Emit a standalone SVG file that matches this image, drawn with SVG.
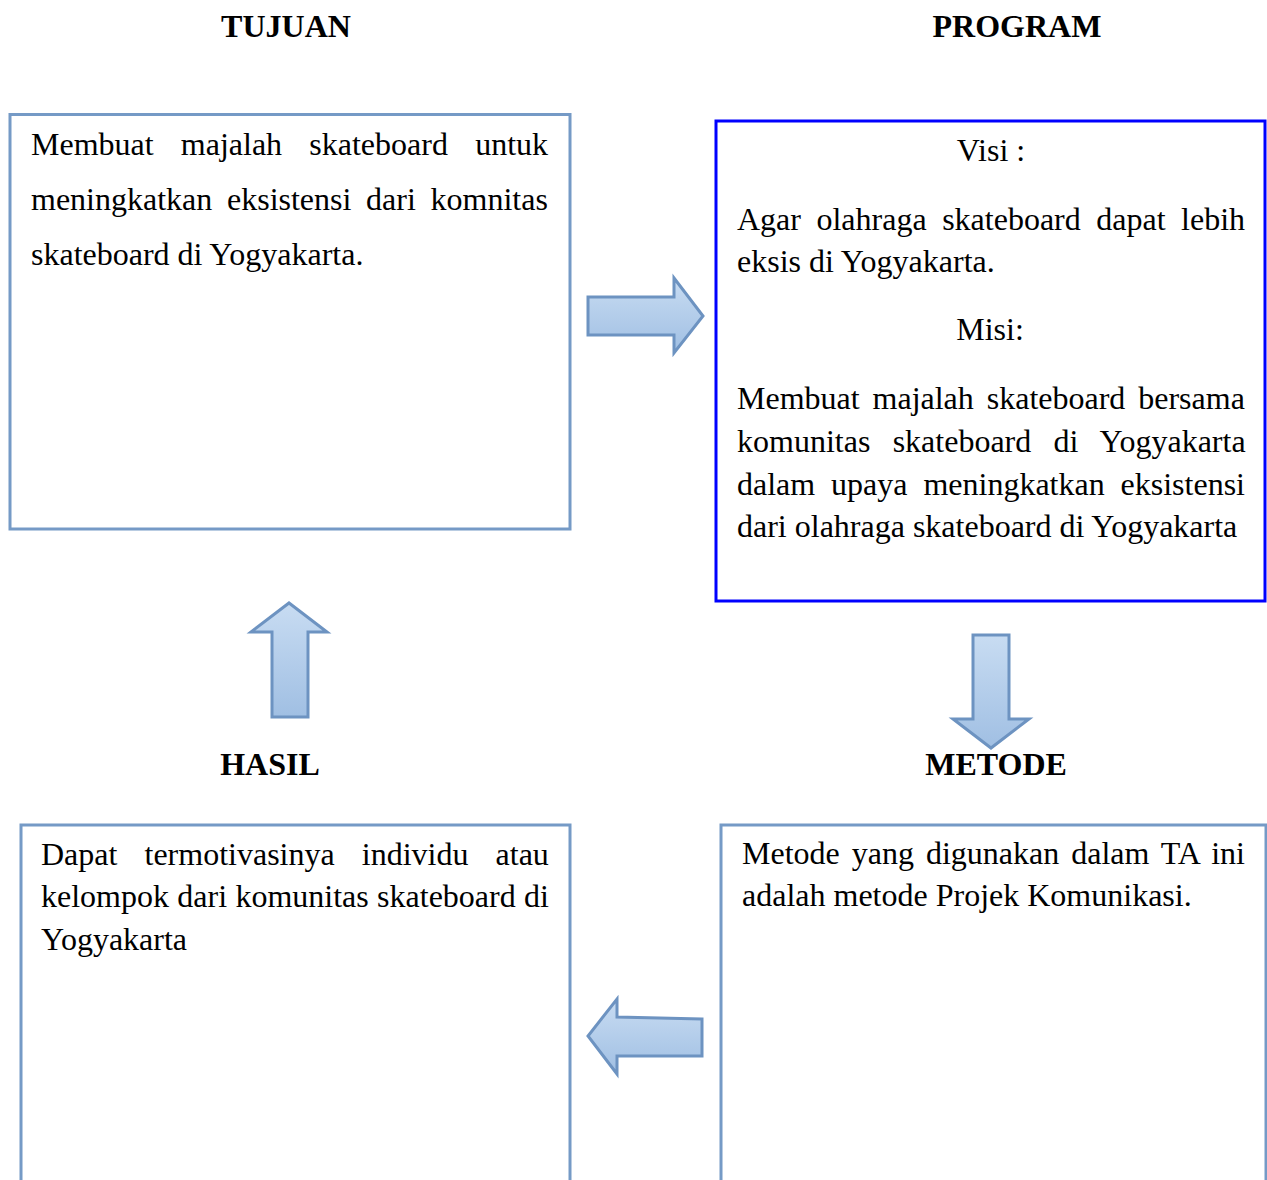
<svg xmlns="http://www.w3.org/2000/svg" width="1267" height="1180" viewBox="0 0 1267 1180">
<style>
text{font-family:"Liberation Serif","Times New Roman",serif;font-size:32px;fill:#000}
.t{font-weight:bold}
.box{fill:#fff;stroke:#759ac6;stroke-width:3}
.blue{fill:#fff;stroke:#0000ff;stroke-width:3}
.arr{fill:url(#g);stroke:#6d93c1;stroke-width:3;stroke-linejoin:miter}
</style>
<defs>
<linearGradient id="g" x1="0" y1="0" x2="0" y2="1">
<stop offset="0" stop-color="#c8dcf2"/>
<stop offset="1" stop-color="#a0bfe3"/>
</linearGradient>
</defs>
<rect width="1267" height="1180" fill="#fff"/>
<g id="titles">
<text class="t" x="286" y="37" text-anchor="middle">TUJUAN</text>
<text class="t" x="1017" y="37" text-anchor="middle">PROGRAM</text>
<text class="t" x="270" y="775" text-anchor="middle">HASIL</text>
<text class="t" x="996" y="775" text-anchor="middle">METODE</text>
</g>
<g id="tujuan">
<rect class="box" x="10" y="114.5" width="560" height="414.5"/>
<text x="31" y="155" style="word-spacing:19.2px">Membuat majalah skateboard untuk</text>
<text x="31" y="210" style="word-spacing:6.7px">meningkatkan eksistensi dari komnitas</text>
<text x="31" y="265">skateboard di Yogyakarta.</text>
</g>
<g id="program">
<rect class="blue" x="716" y="121" width="549" height="480"/>
<text x="991" y="161" text-anchor="middle">Visi :</text>
<text x="737" y="230" style="word-spacing:7.5px">Agar olahraga skateboard dapat lebih</text>
<text x="737" y="272">eksis di Yogyakarta.</text>
<text x="990" y="340" text-anchor="middle">Misi:</text>
<text x="737" y="409" style="word-spacing:4.9px">Membuat majalah skateboard bersama</text>
<text x="737" y="452" style="word-spacing:14.3px">komunitas skateboard di Yogyakarta</text>
<text x="737" y="495" style="word-spacing:7.9px">dalam upaya meningkatkan eksistensi</text>
<text x="737" y="537">dari olahraga skateboard di Yogyakarta</text>
</g>
<g id="hasil">
<rect class="box" x="21" y="825" width="549" height="400"/>
<text x="41" y="865" style="word-spacing:19.1px">Dapat termotivasinya individu atau</text>
<text x="41" y="907" style="word-spacing:0.35px">kelompok dari komunitas skateboard di</text>
<text x="41" y="950">Yogyakarta</text>
</g>
<g id="metode">
<rect class="box" x="721" y="825" width="545" height="400"/>
<text x="742" y="864" style="word-spacing:4px">Metode yang digunakan dalam TA ini</text>
<text x="742" y="906">adalah metode Projek Komunikasi.</text>
</g>
<g id="connectors">
<path class="arr" d="M588,297 L674,297 L674,278 L703,316 L674,353 L674,335 L588,335 Z"/>
<path class="arr" d="M272,717 L272,632 L251,632 L289,603 L327,632 L308,632 L308,717 Z"/>
<path class="arr" d="M973,635 L1009,635 L1009,719 L1029,719 L991,748 L953,719 L973,719 Z"/>
<path class="arr" d="M702,1019 L617,1017 L617,999 L588,1036 L617,1074 L617,1056 L702,1056 Z"/>
</g>
</svg>
